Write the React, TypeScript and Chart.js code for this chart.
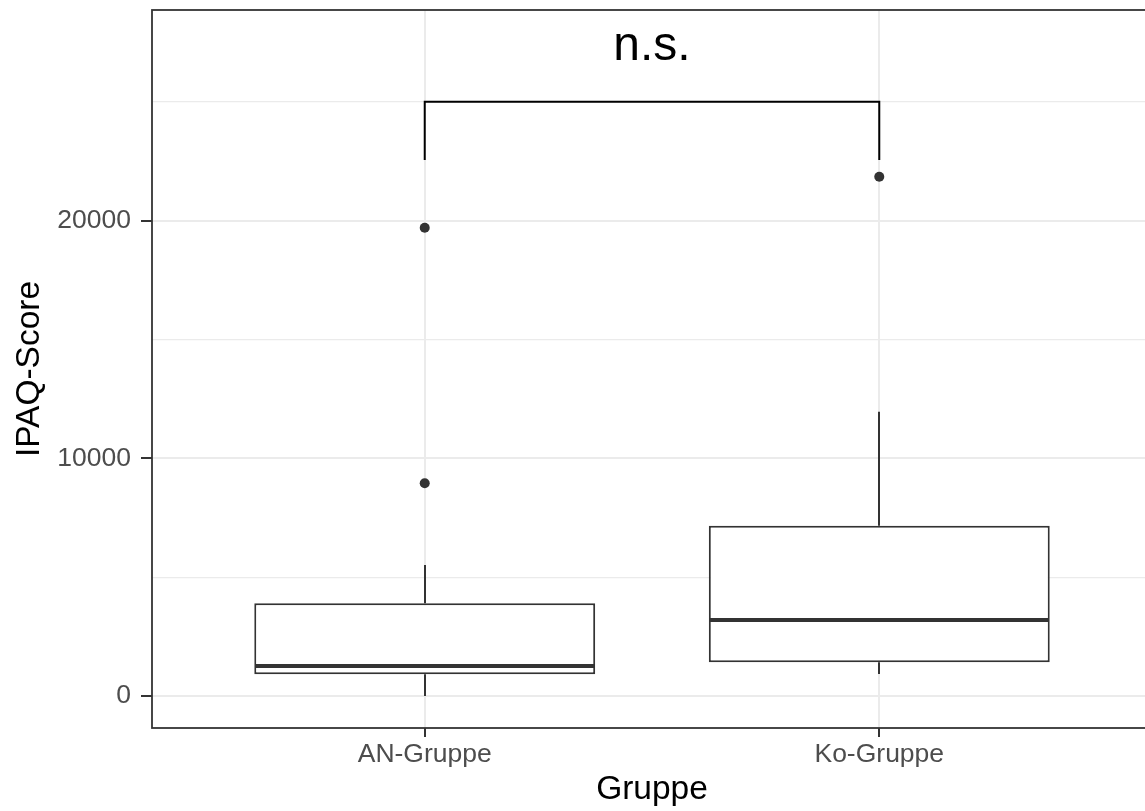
import React, { useEffect, useRef } from 'react';
import { Chart, registerables } from 'chart.js';

Chart.register(...registerables);

// ---- data ----
const groups = ['AN-Gruppe', 'Ko-Gruppe'];
const groupPositions = [1, 2];
const q1 = [913, 1417];
const medians = [1262, 3197];
const q3 = [3900, 7165];
const lowerWhiskers = [0, 925];
const upperWhiskers = [5511, 11960];
const outlierGroup = [1, 1, 2];
const outlierValues = [8948, 19700, 21847];
const yMajorTicks = [0, 10000, 20000];
const yMinorTicks = [5000, 15000, 25000];
const yRange = [-1346, 28860];
const xRange = [0.4, 2.6];
const bracketTop = 25000;
const bracketBottom = 22550;
const bracketLabel = 'n.s.';
const bracketLabelY = 26750;

const FONT = "'Liberation Sans', Arial, Helvetica, sans-serif";
const INK = '#333333';
const CANVAS_W = 1157;
const CANVAS_H = 811;

const boxExtras = {
  id: 'boxExtras',
  beforeDatasetsDraw(chart: any) {
    const { ctx, scales } = chart;
    const x = scales.x;
    const y = scales.y;
    ctx.save();
    ctx.strokeStyle = INK;
    ctx.lineWidth = 2;
    ctx.lineCap = 'butt';
    groupPositions.forEach((g, i) => {
      const px = Math.round(x.getPixelForValue(g));
      ctx.beginPath();
      ctx.moveTo(px, y.getPixelForValue(upperWhiskers[i]));
      ctx.lineTo(px, y.getPixelForValue(q3[i]));
      ctx.moveTo(px, y.getPixelForValue(q1[i]));
      ctx.lineTo(px, y.getPixelForValue(lowerWhiskers[i]));
      ctx.stroke();
    });
    ctx.restore();
  },
  afterDatasetsDraw(chart: any) {
    const { ctx, scales } = chart;
    const y = scales.y;
    const meta = chart.getDatasetMeta(0);
    ctx.save();
    ctx.strokeStyle = INK;
    ctx.lineWidth = 4;
    meta.data.forEach((bar: any, i: number) => {
      const p = bar.getProps(['x', 'width'], true);
      const py = y.getPixelForValue(medians[i]);
      ctx.beginPath();
      ctx.moveTo(p.x - p.width / 2 + 1, py);
      ctx.lineTo(p.x + p.width / 2 - 1, py);
      ctx.stroke();
    });
    ctx.restore();
  },
  afterDraw(chart: any) {
    const { ctx, scales, chartArea } = chart;
    const x = scales.x;
    const y = scales.y;
    ctx.save();
    // significance bracket
    const x1 = x.getPixelForValue(groupPositions[0]);
    const x2 = x.getPixelForValue(groupPositions[1]);
    const yt = y.getPixelForValue(bracketTop);
    const yb = y.getPixelForValue(bracketBottom);
    ctx.strokeStyle = '#000000';
    ctx.lineWidth = 2;
    ctx.beginPath();
    ctx.moveTo(x1, yb);
    ctx.lineTo(x1, yt);
    ctx.lineTo(x2, yt);
    ctx.lineTo(x2, yb);
    ctx.stroke();
    ctx.fillStyle = '#000000';
    ctx.font = `48px ${FONT}`;
    ctx.textAlign = 'center';
    ctx.textBaseline = 'alphabetic';
    ctx.fillText(bracketLabel, (x1 + x2) / 2, y.getPixelForValue(bracketLabelY));
    // panel border
    ctx.strokeStyle = INK;
    ctx.lineWidth = 1.8;
    ctx.strokeRect(chartArea.left, chartArea.top, chartArea.right - chartArea.left, chartArea.bottom - chartArea.top);
    ctx.restore();
  },
};

export default function App() {
  const canvasRef = useRef<HTMLCanvasElement | null>(null);

  useEffect(() => {
    if (!canvasRef.current) return;
    const chart = new Chart(canvasRef.current, {
      type: 'bar',
      data: {
        datasets: [
          {
            type: 'bar',
            data: groupPositions.map((g, i) => ({ x: g, y: [q1[i], q3[i]] })) as any,
            backgroundColor: '#ffffff',
            borderColor: INK,
            borderWidth: 2,
            borderSkipped: false,
            categoryPercentage: 0.75,
            barPercentage: 1,
          },
          {
            type: 'scatter',
            data: outlierValues.map((v, i) => ({ x: outlierGroup[i], y: v })),
            backgroundColor: INK,
            borderColor: INK,
            pointRadius: 5,
            pointBorderWidth: 0,
          } as any,
        ],
      },
      options: {
        responsive: false,
        maintainAspectRatio: false,
        animation: false,
        events: [],
        layout: { padding: { top: 10, left: 0, right: 0, bottom: 0 } },
        plugins: { legend: { display: false }, tooltip: { enabled: false } },
        scales: {
          x: {
            type: 'linear',
            offset: false,
            min: xRange[0],
            max: xRange[1],
            afterBuildTicks: (s: any) => {
              s.ticks = groupPositions.map((v) => ({ value: v }));
            },
            afterFit: (s: any) => {
              s.height = 83;
              s.paddingLeft = 0;
              s.paddingRight = 0;
            },
            ticks: {
              callback: (v: any) => {
                const idx = groupPositions.indexOf(Number(v));
                return idx >= 0 ? groups[idx] : '';
              },
              font: { family: FONT, size: 26.5 },
              color: '#4d4d4d',
              padding: 2,
              autoSkip: false,
              maxRotation: 0,
              minRotation: 0,
            },
            grid: {
              offset: false,
              color: '#ebebeb',
              lineWidth: 2,
              tickColor: INK,
              tickLength: 9,
              tickWidth: 2,
            },
            border: { display: false },
            title: {
              display: true,
              text: 'Gruppe',
              font: { family: FONT, size: 33.5 },
              color: '#000000',
              padding: { top: 0, bottom: 1 },
            },
          },
          y: {
            type: 'linear',
            min: yRange[0],
            max: yRange[1],
            afterBuildTicks: (s: any) => {
              s.ticks = [...yMajorTicks, ...yMinorTicks].sort((a, b) => a - b).map((v) => ({ value: v }));
            },
            afterFit: (s: any) => {
              s.width = 152;
              s.paddingTop = 0;
              s.paddingBottom = 0;
            },
            ticks: {
              callback: (v: any) => (yMajorTicks.includes(Number(v)) ? String(v) : ''),
              font: { family: FONT, size: 26.5 },
              color: '#4d4d4d',
              padding: 10,
              autoSkip: false,
            },
            grid: {
              color: '#ebebeb',
              lineWidth: (c: any) => (c.tick && yMajorTicks.includes(c.tick.value) ? 2 : 1.2),
              tickColor: (c: any) => (c.tick && yMajorTicks.includes(c.tick.value) ? INK : 'rgba(0,0,0,0)'),
              tickLength: 11,
              tickWidth: 2,
            },
            border: { display: false },
            title: {
              display: true,
              text: 'IPAQ-Score',
              font: { family: FONT, size: 33.5 },
              color: '#000000',
              padding: { top: 10, bottom: 0 },
            },
          },
        },
      },
      plugins: [boxExtras],
    } as any);
    return () => chart.destroy();
  }, []);

  return (
    <div
      style={{
        position: 'fixed',
        left: 0,
        top: 0,
        width: 1145,
        height: 811,
        overflow: 'hidden',
        background: '#ffffff',
      }}
    >
      <div style={{ width: CANVAS_W, height: CANVAS_H }}>
        <canvas
          ref={canvasRef}
          width={CANVAS_W}
          height={CANVAS_H}
          style={{ display: 'block', width: CANVAS_W, height: CANVAS_H }}
        />
      </div>
    </div>
  );
}
